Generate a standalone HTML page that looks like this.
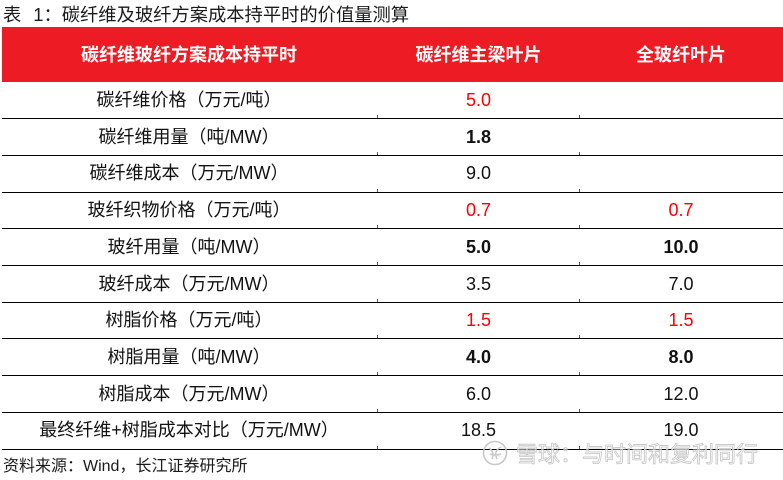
<!DOCTYPE html>
<html>
<head>
<meta charset="utf-8">
<style>
html,body{margin:0;padding:0;background:#fff;}
body{width:783px;height:480px;position:relative;overflow:hidden;font-family:"Liberation Sans","Noto Sans CJK SC",sans-serif;color:#111;}
.title{position:absolute;left:3px;top:3px;font-size:18.3px;line-height:24px;white-space:nowrap;color:#1a1a1a;}
.hdr{position:absolute;left:2px;top:27px;width:781px;height:55px;background:#ED1C24;}
.cell{position:absolute;height:36.7px;line-height:36.7px;text-align:center;font-size:18px;white-space:nowrap;}
.h{color:#fff;font-weight:bold;height:55px;line-height:56px;top:27px;}
.c1{left:0;width:378px;}
.c2{left:378px;width:201px;}
.c3{left:579px;width:204px;}
.r{color:#f00;}
.b{font-weight:bold;}
.line{position:absolute;left:2px;width:781px;height:1px;background:#000;}
.tick{position:absolute;width:1px;height:3px;background:#555;}
.foot{position:absolute;left:3px;top:456px;font-size:16px;line-height:22px;white-space:nowrap;color:#1a1a1a;}
.wm{position:absolute;left:516px;top:440px;font-size:22px;line-height:30px;white-space:nowrap;color:rgba(255,255,255,0.6);-webkit-text-stroke:0.8px #c4c4c4;}
</style>
</head>
<body>
<div class="title">表<span style="display:inline-block;width:12px"></span>1：碳纤维及玻纤方案成本持平时的价值量测算</div>
<div class="hdr"></div>
<div class="cell h c1">碳纤维玻纤方案成本持平时</div>
<div class="cell h c2">碳纤维主梁叶片</div>
<div class="cell h c3">全玻纤叶片</div>

<div class="cell c1" style="top:82px">碳纤维价格（万元/吨）</div>
<div class="cell c2 r" style="top:82px">5.0</div>

<div class="cell c1" style="top:118.7px">碳纤维用量（吨/MW）</div>
<div class="cell c2 b" style="top:118.7px">1.8</div>

<div class="cell c1" style="top:155.4px">碳纤维成本（万元/MW）</div>
<div class="cell c2" style="top:155.4px">9.0</div>

<div class="cell c1" style="top:192.1px">玻纤织物价格（万元/吨）</div>
<div class="cell c2 r" style="top:192.1px">0.7</div>
<div class="cell c3 r" style="top:192.1px">0.7</div>

<div class="cell c1" style="top:228.8px">玻纤用量（吨/MW）</div>
<div class="cell c2 b" style="top:228.8px">5.0</div>
<div class="cell c3 b" style="top:228.8px">10.0</div>

<div class="cell c1" style="top:265.5px">玻纤成本（万元/MW）</div>
<div class="cell c2" style="top:265.5px">3.5</div>
<div class="cell c3" style="top:265.5px">7.0</div>

<div class="cell c1" style="top:302.2px">树脂价格（万元/吨）</div>
<div class="cell c2 r" style="top:302.2px">1.5</div>
<div class="cell c3 r" style="top:302.2px">1.5</div>

<div class="cell c1" style="top:338.9px">树脂用量（吨/MW）</div>
<div class="cell c2 b" style="top:338.9px">4.0</div>
<div class="cell c3 b" style="top:338.9px">8.0</div>

<div class="cell c1" style="top:375.6px">树脂成本（万元/MW）</div>
<div class="cell c2" style="top:375.6px">6.0</div>
<div class="cell c3" style="top:375.6px">12.0</div>

<div class="cell c1" style="top:412.3px">最终纤维+树脂成本对比（万元/MW）</div>
<div class="cell c2" style="top:412.3px">18.5</div>
<div class="cell c3" style="top:412.3px">19.0</div>

<div class="line" style="top:118px"></div>
<div class="line" style="top:155px"></div>
<div class="line" style="top:192px"></div>
<div class="line" style="top:228px"></div>
<div class="line" style="top:265px"></div>
<div class="line" style="top:302px"></div>
<div class="line" style="top:338px"></div>
<div class="line" style="top:375px"></div>
<div class="line" style="top:412px"></div>
<div class="line" style="top:449px"></div>

<div class="tick" style="left:377px;top:115px"></div><div class="tick" style="left:579px;top:115px"></div>
<div class="tick" style="left:377px;top:152px"></div><div class="tick" style="left:579px;top:152px"></div>
<div class="tick" style="left:377px;top:189px"></div><div class="tick" style="left:579px;top:189px"></div>
<div class="tick" style="left:377px;top:225px"></div><div class="tick" style="left:579px;top:225px"></div>
<div class="tick" style="left:377px;top:262px"></div><div class="tick" style="left:579px;top:262px"></div>
<div class="tick" style="left:377px;top:299px"></div><div class="tick" style="left:579px;top:299px"></div>
<div class="tick" style="left:377px;top:335px"></div><div class="tick" style="left:579px;top:335px"></div>
<div class="tick" style="left:377px;top:372px"></div><div class="tick" style="left:579px;top:372px"></div>
<div class="tick" style="left:377px;top:409px"></div><div class="tick" style="left:579px;top:409px"></div>
<div class="tick" style="left:377px;top:446px"></div><div class="tick" style="left:579px;top:446px"></div>

<div class="foot">资料来源：Wind，长江证券研究所</div>
<svg style="position:absolute;left:481px;top:439px" width="28" height="28" viewBox="0 0 28 28">
<circle cx="14" cy="14" r="11.5" fill="none" stroke="#c8c8c8" stroke-width="1.6"/>
<path d="M8 9 Q14 13 11 20 M20 8 Q12 12 16 20 M9 15 Q15 17 20 15" fill="none" stroke="#c8c8c8" stroke-width="1.5"/>
</svg>
<div class="wm">雪球：与时间和复利同行</div>
</body>
</html>
